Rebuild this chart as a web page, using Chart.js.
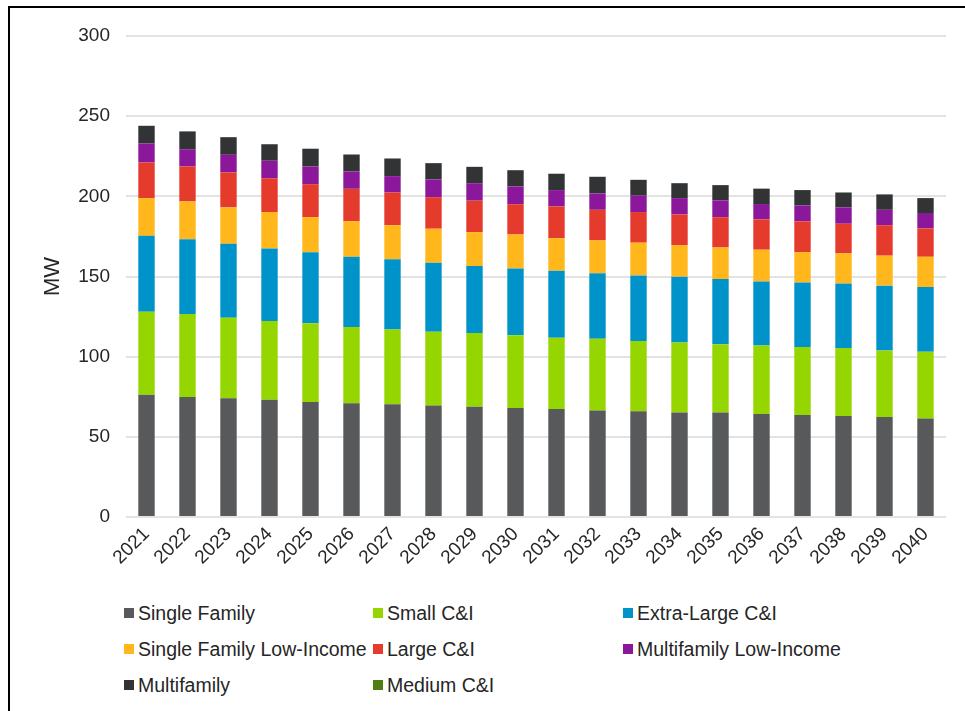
<!DOCTYPE html>
<html>
<head>
<meta charset="utf-8">
<script src="https://cdn.jsdelivr.net/npm/chart.js@4.4.1/dist/chart.umd.min.js"></script>
<style>
  html, body { margin: 0; padding: 0; background: #fff; }
  body { width: 965px; height: 711px; position: relative; overflow: hidden; font-family: "Liberation Sans", Arial, sans-serif; }
  #frame { position: absolute; left: 8px; top: 6px; width: 1000px; height: 800px; border-top: 2px solid #000; border-left: 2px solid #000; }
  #wrap { position: absolute; left: 0; top: 0; width: 965px; height: 590px; }
  #legend { position: absolute; left: 124px; top: 602px; display: grid; grid-template-columns: 249px 250px 250px; row-gap: 14px; }
  #legend .item { display: flex; align-items: center; font-size: 19.5px; color: #262626; height: 22px; white-space: nowrap; }
  #legend .box { width: 10px; height: 10px; margin-right: 4px; }
</style>
</head>
<body>
<div id="frame"></div>
<div id="wrap"><canvas id="mwChart"></canvas></div>
<div id="legend"></div>
<script>
// years on the x axis
const years = ['2021','2022','2023','2024','2025','2026','2027','2028','2029','2030',
  '2031','2032','2033','2034','2035','2036','2037','2038','2039','2040'];

// MW by segment
const singleFamily = [76.3, 74.8, 74.0, 73.2, 71.7, 70.9, 70.3, 69.5, 68.8, 68.0, 67.3, 66.5, 65.9, 65.1, 65.1, 64.2, 63.6, 63.0, 62.3, 61.5];
const smallCI = [51.7, 51.8, 50.3, 49.0, 49.1, 47.6, 46.7, 46.1, 45.9, 45.3, 44.5, 44.7, 43.8, 43.8, 42.6, 42.7, 42.4, 42.4, 41.6, 41.6];
const extraLargeCI = [47.4, 46.7, 46.1, 45.3, 44.4, 43.8, 43.8, 43.0, 41.8, 41.7, 41.8, 40.9, 41.0, 41.0, 40.7, 40.0, 40.3, 40.3, 40.4, 40.3];
const sfLowIncome = [23.5, 23.5, 22.7, 22.7, 21.8, 22.1, 21.2, 21.2, 21.2, 21.2, 20.3, 20.4, 20.4, 19.7, 19.7, 19.8, 18.9, 18.7, 18.7, 18.9];
const largeCI = [22.2, 21.8, 21.8, 21.1, 20.6, 20.3, 20.4, 19.7, 19.6, 18.9, 19.8, 19.1, 19.1, 19.1, 18.9, 18.9, 19.2, 18.5, 19.0, 17.7];
const mfLowIncome = [11.8, 10.8, 11.0, 10.9, 11.0, 10.8, 10.2, 11.0, 10.9, 11.1, 10.2, 10.2, 10.2, 10.2, 10.5, 9.6, 9.9, 10.2, 9.6, 9.6];
const multifamily = [11.1, 11.1, 11.0, 10.3, 11.1, 10.6, 11.0, 10.2, 10.2, 10.1, 10.2, 10.4, 9.9, 9.3, 9.5, 9.6, 9.6, 9.3, 9.6, 9.3];
const mediumCI = [0, 0, 0, 0, 0, 0, 0, 0, 0, 0, 0, 0, 0, 0, 0, 0, 0, 0, 0, 0];

const yTicks = [0, 50, 100, 150, 200, 250, 300];

const datasets = [
  { label: 'Single Family', data: singleFamily, backgroundColor: '#58595b' },
  { label: 'Small C&I', data: smallCI, backgroundColor: '#96d600' },
  { label: 'Extra-Large C&I', data: extraLargeCI, backgroundColor: '#0093c9' },
  { label: 'Single Family Low-Income', data: sfLowIncome, backgroundColor: '#ffb71b' },
  { label: 'Large C&I', data: largeCI, backgroundColor: '#e53b2d' },
  { label: 'Multifamily Low-Income', data: mfLowIncome, backgroundColor: '#8b189a' },
  { label: 'Multifamily', data: multifamily, backgroundColor: '#323335' },
  { label: 'Medium C&I', data: mediumCI, backgroundColor: '#4f7f12' }
];

const font = { family: '"Liberation Sans", Arial, sans-serif', size: 19 };

const mwChart = new Chart(document.getElementById('mwChart'), {
  type: 'bar',
  data: { labels: years, datasets: datasets },
  options: {
    responsive: true,
    maintainAspectRatio: false,
    animation: false,
    barPercentage: 0.4,
    categoryPercentage: 1,
    layout: { padding: { left: 40, right: 19, top: 36, bottom: 0 } },
    plugins: {
      legend: { display: false },
      tooltip: { enabled: false }
    },
    scales: {
      x: {
        stacked: true,
        grid: { display: false, drawTicks: false },
        border: { display: false },
        ticks: { color: '#262626', font: font, maxRotation: 45, minRotation: 45, padding: 6 },
        afterFit: function (scale) { scale.height = 73; }
      },
      y: {
        stacked: true,
        min: 0,
        max: 300,
        afterBuildTicks: function (scale) { scale.ticks = yTicks.map(v => ({ value: v })); },
        grid: { color: '#e3e3e3', lineWidth: 2, drawTicks: false },
        border: { display: false },
        ticks: { color: '#262626', font: font, padding: 16 },
        title: { display: true, text: 'MW', color: '#262626', font: { family: font.family, size: 22 }, padding: 0 },
        afterFit: function (scale) { scale.width = 86; }
      }
    }
  }
});

// legend in three columns, like the original
const legendEl = document.getElementById('legend');
datasets.forEach(ds => {
  const item = document.createElement('div');
  item.className = 'item';
  const box = document.createElement('span');
  box.className = 'box';
  box.style.background = ds.backgroundColor;
  const txt = document.createElement('span');
  txt.textContent = ds.label;
  item.appendChild(box);
  item.appendChild(txt);
  legendEl.appendChild(item);
});
</script>
</body>
</html>
